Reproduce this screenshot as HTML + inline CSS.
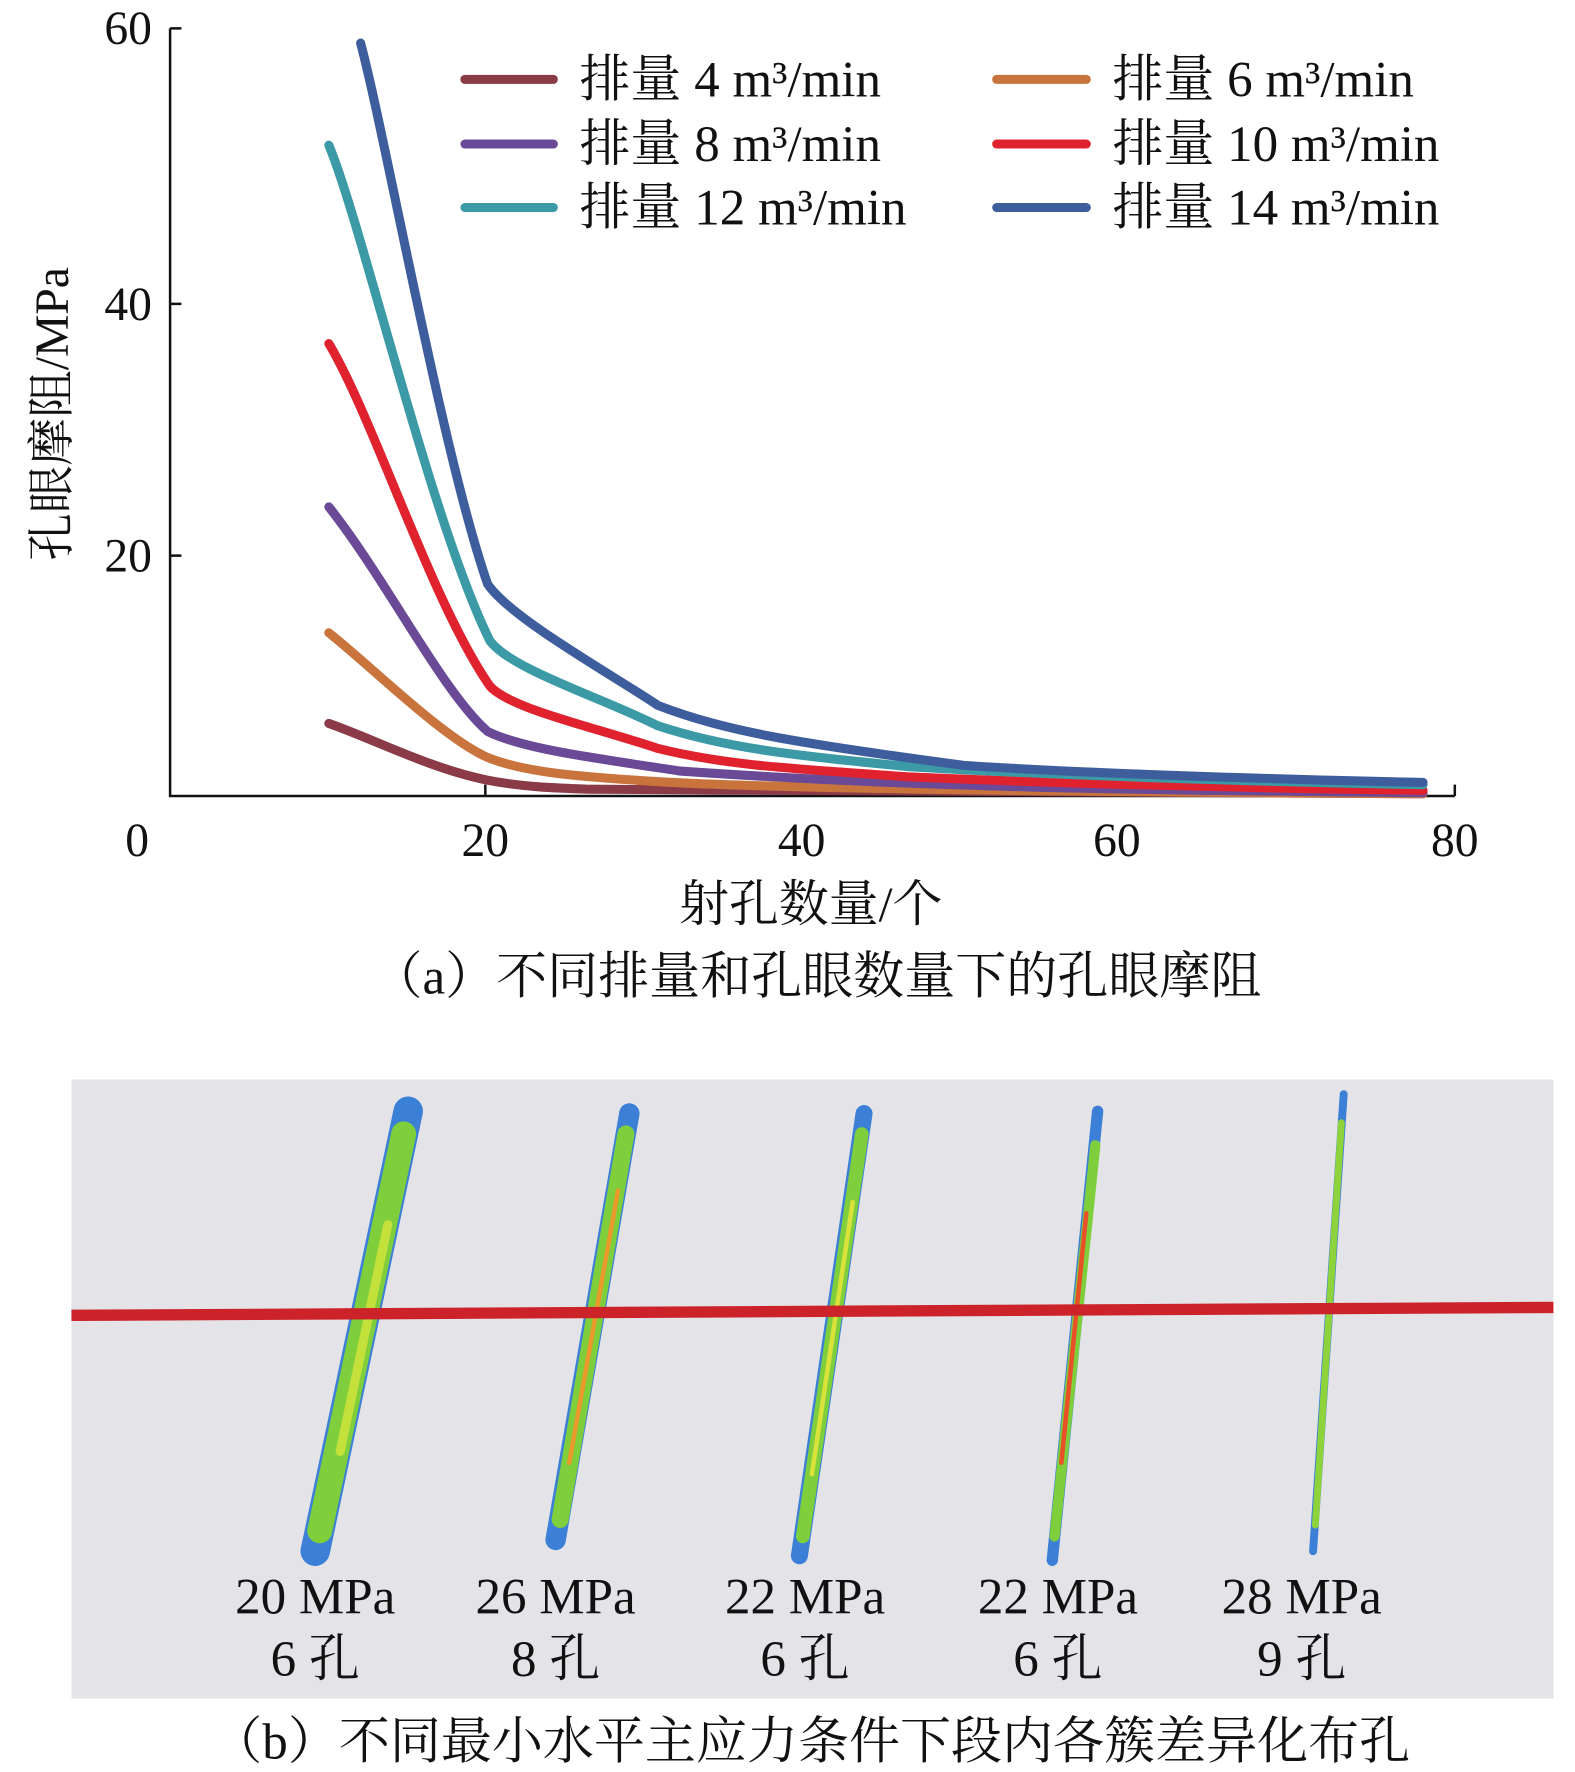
<!DOCTYPE html>
<html><head><meta charset="utf-8"><style>
html,body{margin:0;padding:0;background:#fff;}
svg{display:block;}
text{font-family:"Liberation Serif","Noto Serif CJK SC",serif;fill:#111;}
</style></head><body>
<svg width="1575" height="1772" viewBox="0 0 1389 1562.7" xmlns="http://www.w3.org/2000/svg">
<!-- axes -->
<g stroke="#111" stroke-width="2.2" fill="none">
<path d="M150 25 V702 H1283"/>
<path d="M150 25 h10 M150 268 h10 M150 490 h10"/>
<path d="M428 702 v-10 M707 702 v-10 M985 702 v-10 M1283 702 v-10"/>
</g>
<g font-size="42" text-anchor="end">
<text x="134" y="39">60</text><text x="134" y="282">40</text><text x="134" y="504">20</text>
</g>
<g font-size="42" text-anchor="middle">
<text x="121" y="755">0</text><text x="428" y="755">20</text><text x="707" y="755">40</text><text x="985" y="755">60</text><text x="1283" y="755">80</text>
<text x="715" y="812" font-size="44">射孔数量/个</text>
<text x="720" y="876" font-size="45">（a）不同排量和孔眼数量下的孔眼摩阻</text>
</g>
<text font-size="42" text-anchor="middle" transform="translate(60 365) rotate(-90)">孔眼摩阻/MPa</text>
<!-- curves -->
<g fill="none" stroke-width="8" stroke-linecap="round" stroke-linejoin="round">
<path stroke="#8b3a48" d="M290 638 C330 652 380 678 430 688 C460 694 490 695 520 696 L1255 700"/>
<path stroke="#c8743c" d="M290 558 C330 590 390 650 430 668 C460 680 500 684 560 688 C650 695 900 698 1255 700"/>
<path stroke="#6a4a96" d="M290 447 C340 510 390 610 430 645 C460 660 520 668 600 680 C800 694 1000 697 1255 699"/>
<path stroke="#e0222e" d="M290 303 C330 370 380 530 432 605 C450 625 520 640 580 660 C640 675 700 678 800 685 C1000 694 1255 697 1255 697"/>
<path stroke="#3c9aa6" d="M290 128 C320 200 380 460 432 565 C450 590 530 615 580 640 C640 660 700 666 800 676 C1000 688 1255 692 1255 692"/>
<path stroke="#3e5d9c" d="M318 38 C340 120 390 400 430 515 C450 545 540 595 580 622 C640 645 700 655 850 675 C1000 685 1255 690 1255 690"/>
</g>
<!-- legend -->
<g stroke-width="8" stroke-linecap="round">
<line x1="410" y1="70" x2="488" y2="70" stroke="#8b3a48"/>
<line x1="410" y1="127" x2="488" y2="127" stroke="#6a4a96"/>
<line x1="410" y1="183" x2="488" y2="183" stroke="#3c9aa6"/>
<line x1="879" y1="70" x2="958" y2="70" stroke="#c8743c"/>
<line x1="879" y1="127" x2="958" y2="127" stroke="#e0222e"/>
<line x1="879" y1="183" x2="958" y2="183" stroke="#3e5d9c"/>
</g>
<g font-size="45">
<text x="511" y="85">排量 4 m³/min</text>
<text x="511" y="142">排量 8 m³/min</text>
<text x="511" y="198">排量 12 m³/min</text>
<text x="981" y="85">排量 6 m³/min</text>
<text x="981" y="142">排量 10 m³/min</text>
<text x="981" y="198">排量 14 m³/min</text>
</g>
<!-- panel b -->
<rect x="63" y="952" width="1307" height="546" fill="#e4e4e8"/>
<g stroke-linecap="round" fill="none">
<line x1="360" y1="980" x2="278" y2="1368" stroke="#3b7fd6" stroke-width="26"/>
<line x1="356" y1="1000" x2="282" y2="1350" stroke="#7fcf3c" stroke-width="22"/>
<line x1="342" y1="1080" x2="300" y2="1280" stroke="#c4e03a" stroke-width="8"/>
<line x1="555" y1="982" x2="490" y2="1358" stroke="#3b7fd6" stroke-width="18"/>
<line x1="552" y1="1000" x2="494" y2="1340" stroke="#7fcf3c" stroke-width="15"/>
<line x1="545" y1="1050" x2="502" y2="1290" stroke="#e89a2a" stroke-width="4"/>
<line x1="762" y1="982" x2="705" y2="1372" stroke="#3b7fd6" stroke-width="15"/>
<line x1="760" y1="1000" x2="708" y2="1355" stroke="#7fcf3c" stroke-width="12"/>
<line x1="752" y1="1060" x2="716" y2="1300" stroke="#d8e23a" stroke-width="4"/>
<line x1="968" y1="980" x2="928" y2="1376" stroke="#3b7fd6" stroke-width="10"/>
<line x1="966" y1="1010" x2="930" y2="1355" stroke="#7fcf3c" stroke-width="9"/>
<line x1="958" y1="1070" x2="936" y2="1290" stroke="#e85028" stroke-width="4"/>
<line x1="1185" y1="965" x2="1158" y2="1368" stroke="#3b7fd6" stroke-width="7"/>
<line x1="1183" y1="990" x2="1160" y2="1345" stroke="#8ed23c" stroke-width="6"/>
</g>
<line x1="63" y1="1160" x2="1370" y2="1153" stroke="#cc2229" stroke-width="10"/>
<g font-size="45" text-anchor="middle">
<text x="278" y="1423">20 MPa</text><text x="278" y="1478">6 孔</text>
<text x="490" y="1423">26 MPa</text><text x="490" y="1478">8 孔</text>
<text x="710" y="1423">22 MPa</text><text x="710" y="1478">6 孔</text>
<text x="933" y="1423">22 MPa</text><text x="933" y="1478">6 孔</text>
<text x="1148" y="1423">28 MPa</text><text x="1148" y="1478">9 孔</text>
<text x="715" y="1551">（b）不同最小水平主应力条件下段内各簇差异化布孔</text>
</g>
</svg>
</body></html>
